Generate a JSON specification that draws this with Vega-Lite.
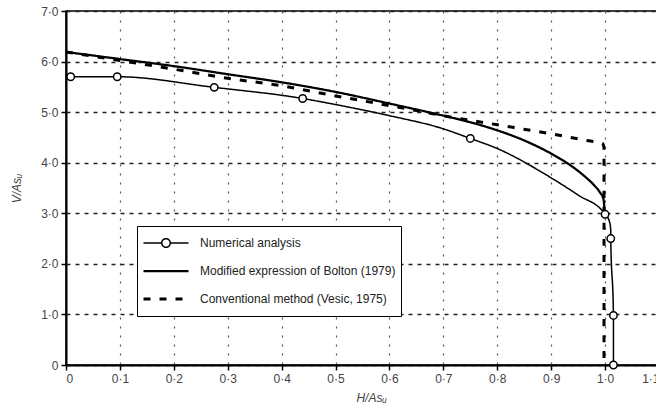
{
  "$schema": "https://vega.github.io/schema/vega-lite/v6.json",
  "width": 593,
  "height": 354,
  "autosize": {"type": "none"},
  "padding": {"left": 66, "top": 11, "right": -3, "bottom": 42},
  "background": "white",
  "config": {
    "font": "Liberation Sans",
    "view": {"stroke": "black", "strokeWidth": 1.5},
    "axis": {
      "domainColor": "black",
      "domainWidth": 2,
      "tickColor": "black",
      "tickWidth": 1.5,
      "tickSize": 5,
      "labelFont": "Liberation Sans",
      "labelFontSize": 12,
      "labelColor": "#444",
      "titleFont": "Liberation Sans",
      "titleFontSize": 12,
      "titleFontWeight": "normal",
      "titleFontStyle": "italic",
      "titleColor": "#444"
    },
    "legend": {
      "title": null,
      "orient": "none",
      "legendX": 71,
      "legendY": 215,
      "padding": 5,
      "fillColor": "white",
      "strokeColor": "black",
      "symbolSize": 2025,
      "symbolStrokeColor": "black",
      "symbolFillColor": "white",
      "clipHeight": 24,
      "rowPadding": 4,
      "labelOffset": 10,
      "labelFont": "Liberation Sans",
      "labelFontSize": 12,
      "labelColor": "#222",
      "labelLimit": 400
    }
  },
  "datasets": {
    "curves": [
      {"series": "Numerical analysis", "i": 1, "h": 0.0087, "v": 5.70},
      {"series": "Numerical analysis", "i": 2, "h": 0.095, "v": 5.70},
      {"series": "Numerical analysis", "i": 3, "h": 0.275, "v": 5.49},
      {"series": "Numerical analysis", "i": 4, "h": 0.439, "v": 5.27},
      {"series": "Numerical analysis", "i": 5, "h": 0.5, "v": 5.15},
      {"series": "Numerical analysis", "i": 6, "h": 0.6, "v": 4.93},
      {"series": "Numerical analysis", "i": 7, "h": 0.7, "v": 4.67},
      {"series": "Numerical analysis", "i": 8, "h": 0.75, "v": 4.48},
      {"series": "Numerical analysis", "i": 9, "h": 0.8, "v": 4.28},
      {"series": "Numerical analysis", "i": 10, "h": 0.9, "v": 3.70},
      {"series": "Numerical analysis", "i": 11, "h": 0.95, "v": 3.36},
      {"series": "Numerical analysis", "i": 12, "h": 1.0, "v": 2.98},
      {"series": "Numerical analysis", "i": 13, "h": 1.008, "v": 2.84},
      {"series": "Numerical analysis", "i": 14, "h": 1.0105, "v": 2.67},
      {"series": "Numerical analysis", "i": 15, "h": 1.0105, "v": 2.5},
      {"series": "Numerical analysis", "i": 16, "h": 1.0155, "v": 0.98},
      {"series": "Numerical analysis", "i": 17, "h": 1.0155, "v": 0},
      {"series": "Modified expression of Bolton (1979)", "i": 1, "h": 0, "v": 6.19},
      {"series": "Modified expression of Bolton (1979)", "i": 2, "h": 0.1, "v": 6.05},
      {"series": "Modified expression of Bolton (1979)", "i": 3, "h": 0.2, "v": 5.91},
      {"series": "Modified expression of Bolton (1979)", "i": 4, "h": 0.3, "v": 5.75},
      {"series": "Modified expression of Bolton (1979)", "i": 5, "h": 0.4, "v": 5.59},
      {"series": "Modified expression of Bolton (1979)", "i": 6, "h": 0.5, "v": 5.40},
      {"series": "Modified expression of Bolton (1979)", "i": 7, "h": 0.6, "v": 5.17},
      {"series": "Modified expression of Bolton (1979)", "i": 8, "h": 0.7, "v": 4.93},
      {"series": "Modified expression of Bolton (1979)", "i": 9, "h": 0.75, "v": 4.80},
      {"series": "Modified expression of Bolton (1979)", "i": 10, "h": 0.8, "v": 4.64},
      {"series": "Modified expression of Bolton (1979)", "i": 11, "h": 0.85, "v": 4.44},
      {"series": "Modified expression of Bolton (1979)", "i": 12, "h": 0.9, "v": 4.18},
      {"series": "Modified expression of Bolton (1979)", "i": 13, "h": 0.93, "v": 3.99},
      {"series": "Modified expression of Bolton (1979)", "i": 14, "h": 0.96, "v": 3.75},
      {"series": "Modified expression of Bolton (1979)", "i": 15, "h": 0.98, "v": 3.55},
      {"series": "Modified expression of Bolton (1979)", "i": 16, "h": 0.99, "v": 3.42},
      {"series": "Modified expression of Bolton (1979)", "i": 17, "h": 0.997, "v": 3.28},
      {"series": "Modified expression of Bolton (1979)", "i": 18, "h": 0.999, "v": 3.07},
      {"series": "Conventional method (Vesic, 1975)", "i": 1, "h": 0, "v": 6.19},
      {"series": "Conventional method (Vesic, 1975)", "i": 2, "h": 0.1, "v": 6.02},
      {"series": "Conventional method (Vesic, 1975)", "i": 3, "h": 0.2, "v": 5.85},
      {"series": "Conventional method (Vesic, 1975)", "i": 4, "h": 0.3, "v": 5.67},
      {"series": "Conventional method (Vesic, 1975)", "i": 5, "h": 0.4, "v": 5.52},
      {"series": "Conventional method (Vesic, 1975)", "i": 6, "h": 0.5, "v": 5.32},
      {"series": "Conventional method (Vesic, 1975)", "i": 7, "h": 0.6, "v": 5.13},
      {"series": "Conventional method (Vesic, 1975)", "i": 8, "h": 0.7, "v": 4.93},
      {"series": "Conventional method (Vesic, 1975)", "i": 9, "h": 0.8, "v": 4.75},
      {"series": "Conventional method (Vesic, 1975)", "i": 10, "h": 0.9, "v": 4.57},
      {"series": "Conventional method (Vesic, 1975)", "i": 11, "h": 0.966, "v": 4.44},
      {"series": "Conventional method (Vesic, 1975)", "i": 12, "h": 0.995, "v": 4.38},
      {"series": "Conventional method (Vesic, 1975)", "i": 13, "h": 0.998, "v": 4.3},
      {"series": "Conventional method (Vesic, 1975)", "i": 14, "h": 0.998, "v": 0}
    ],
    "points": [
      {"h": 0.0087, "v": 5.70},
      {"h": 0.095, "v": 5.70},
      {"h": 0.275, "v": 5.49},
      {"h": 0.439, "v": 5.27},
      {"h": 0.75, "v": 4.48},
      {"h": 1.0, "v": 2.98},
      {"h": 1.0105, "v": 2.5},
      {"h": 1.0155, "v": 0.98},
      {"h": 1.0155, "v": 0}
    ]
  },
  "layer": [
    {
      "data": {"name": "curves"},
      "mark": {"type": "line", "color": "black", "clip": true, "interpolate": "monotone"},
      "encoding": {
        "x": {
          "field": "h", "type": "quantitative",
          "scale": {"domain": [0, 1.1], "nice": false, "zero": false},
          "axis": {
            "title": "H/Asᵤ",
            "titleX": 305,
            "values": [0, 0.1, 0.2, 0.3, 0.4, 0.5, 0.6, 0.7, 0.8, 0.9, 1.0, 1.1],
            "labelExpr": "datum.value == 0 ? '0' : replace(format(datum.value, '.1f'), '.', '·')",
            "labelPadding": 3,
            "titlePadding": 8,
            "grid": true,
            "gridColor": "#555",
            "gridDash": [2, 7],
            "gridWidth": 1.2
          }
        },
        "y": {
          "field": "v", "type": "quantitative",
          "scale": {"domain": [0, 7], "nice": false},
          "axis": {
            "title": "V/Asᵤ",
            "values": [0, 1, 2, 3, 4, 5, 6, 7],
            "labelExpr": "datum.value == 0 ? '0' : replace(format(datum.value, '.1f'), '.', '·')",
            "labelPadding": 3,
            "titlePadding": 17,
            "grid": true,
            "gridColor": "#222",
            "gridDash": [4, 5],
            "gridWidth": 1.4
          }
        },
        "order": {"field": "i", "type": "quantitative"},
        "strokeDash": {
          "field": "series", "type": "nominal",
          "scale": {
            "domain": ["Numerical analysis", "Modified expression of Bolton (1979)", "Conventional method (Vesic, 1975)"],
            "range": [[1, 0], [1, 0], [7, 9]]
          },
          "legend": {
            "symbolType": {"expr": "datum.value === 'Numerical analysis' ? 'M-1,0H-0.19M0.19,0H1M-0.19,0A0.19,0.19 0 1,0 0.19,0A0.19,0.19 0 1,0 -0.19,0' : 'M-1,0H1'"}
          }
        },
        "strokeWidth": {
          "field": "series", "type": "nominal",
          "scale": {
            "domain": ["Numerical analysis", "Modified expression of Bolton (1979)", "Conventional method (Vesic, 1975)"],
            "range": [1.5, 3, 3]
          },
          "legend": {
            "symbolType": {"expr": "datum.value === 'Numerical analysis' ? 'M-1,0H-0.19M0.19,0H1M-0.19,0A0.19,0.19 0 1,0 0.19,0A0.19,0.19 0 1,0 -0.19,0' : 'M-1,0H1'"}
          }
        }
      }
    },
    {
      "data": {"name": "points"},
      "mark": {"type": "point", "filled": true, "fill": "white", "stroke": "black", "strokeWidth": 1.5, "size": 55, "opacity": 1, "shape": "circle"},
      "encoding": {
        "x": {"field": "h", "type": "quantitative"},
        "y": {"field": "v", "type": "quantitative"}
      }
    }
  ]
}
